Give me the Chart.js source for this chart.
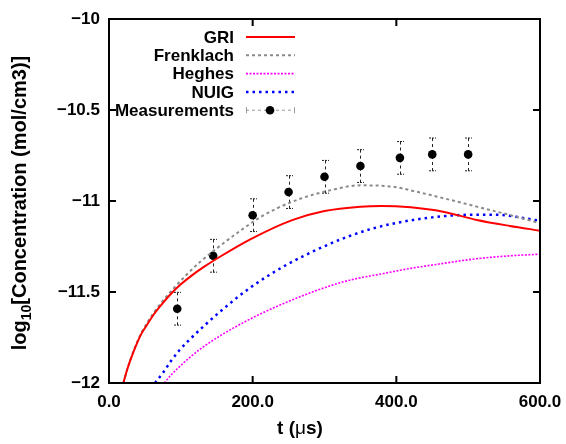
<!DOCTYPE html>
<html>
<head>
<meta charset="utf-8">
<script src="https://cdn.jsdelivr.net/npm/chart.js@4.4.1/dist/chart.umd.min.js"></script>
<style>
  body { margin: 0; background: #fff; }
  canvas { display: block; }
</style>
</head>
<body>
<canvas id="chart" width="566" height="444"></canvas>
<script>
// model curves: time (us) and log10 concentration
const griT = [20, 25, 30, 37, 45, 53, 62, 74, 85, 100, 115, 131, 155, 196, 255, 300, 350, 380, 420, 465, 512, 558, 600];
const griY = [-12, -11.93, -11.872, -11.8, -11.73, -11.68, -11.625, -11.565, -11.515, -11.458, -11.41, -11.365, -11.305, -11.212, -11.105, -11.055, -11.031, -11.027, -11.035, -11.059, -11.104, -11.137, -11.163];

const frenT = [20, 25, 30, 37, 45, 53, 62, 75, 90, 108, 127, 154, 183, 208, 234, 266, 303, 350, 396, 428, 466, 512, 558, 600];
const frenY = [-12, -11.93, -11.87, -11.795, -11.725, -11.67, -11.615, -11.548, -11.48, -11.405, -11.334, -11.248, -11.163, -11.095, -11.04, -10.988, -10.946, -10.914, -10.922, -10.949, -10.985, -11.031, -11.077, -11.122];

const hegT = [77, 85, 95, 110, 130, 155, 180, 210, 245, 290, 335, 380, 420, 465, 510, 555, 600];
const hegY = [-12, -11.962, -11.922, -11.868, -11.805, -11.74, -11.683, -11.622, -11.56, -11.49, -11.435, -11.4, -11.37, -11.343, -11.318, -11.302, -11.292];

const nuigT = [64, 75, 87, 98, 110, 134, 157, 196, 243, 289, 331, 370, 410, 450, 489, 535, 600];
const nuigY = [-12, -11.945, -11.875, -11.82, -11.77, -11.68, -11.6, -11.478, -11.36, -11.268, -11.198, -11.148, -11.113, -11.09, -11.077, -11.075, -11.108];

// measurements with symmetric error
const measT = [95, 145, 200, 250, 300, 350, 405, 450, 500];
const measY = [-11.592, -11.301, -11.078, -10.951, -10.867, -10.808, -10.763, -10.744, -10.744];
const measErr = [0.09, 0.09, 0.09, 0.09, 0.09, 0.09, 0.09, 0.09, 0.09];

const xTicks = [0, 200, 400, 600];
const yTicks = [-12, -11.5, -11, -10.5, -10];

const FONT_FAMILY = '"Liberation Sans", Arial, sans-serif';

function pts(xs, ys) {
    return xs.map((x, i) => ({ x: x, y: ys[i] }));
}

// draws error bars under the measurement dots
const errorBars = {
    id: 'errorBars',
    beforeDatasetsDraw(chart) {
        const ctx = chart.ctx;
        const xs = chart.scales.x, ys = chart.scales.y;
        ctx.save();
        ctx.strokeStyle = '#222';
        ctx.lineWidth = 1;
        measT.forEach((t, i) => {
            let px = Math.round(xs.getPixelForValue(t)) + 0.5;
            let top = ys.getPixelForValue(measY[i] + measErr[i]);
            let bot = ys.getPixelForValue(measY[i] - measErr[i]);
            ctx.setLineDash([3, 3]);
            ctx.beginPath();
            ctx.moveTo(px, top);
            ctx.lineTo(px, bot);
            ctx.stroke();
            ctx.setLineDash([2, 1]);
            ctx.beginPath();
            ctx.moveTo(px - 3.5, top); ctx.lineTo(px + 3.5, top);
            ctx.moveTo(px - 3.5, bot); ctx.lineTo(px + 3.5, bot);
            ctx.stroke();
        });
        ctx.restore();
    }
};

// gnuplot style frame, inward ticks, legend and axis titles
const frame = {
    id: 'frame',
    afterDatasetsDraw(chart) {
        const ctx = chart.ctx;
        const a = chart.chartArea;
        const xs = chart.scales.x, ys = chart.scales.y;
        ctx.save();
        ctx.strokeStyle = '#000';
        ctx.lineWidth = 2;
        ctx.setLineDash([]);
        ctx.strokeRect(a.left, a.top, a.right - a.left, a.bottom - a.top);

        ctx.beginPath();
        xTicks.forEach(v => {
            let px = xs.getPixelForValue(v);
            ctx.moveTo(px, a.bottom); ctx.lineTo(px, a.bottom - 7);
            ctx.moveTo(px, a.top); ctx.lineTo(px, a.top + 7);
        });
        yTicks.forEach(v => {
            let py = ys.getPixelForValue(v);
            ctx.moveTo(a.left, py); ctx.lineTo(a.left + 7, py);
            ctx.moveTo(a.right, py); ctx.lineTo(a.right - 7, py);
        });
        ctx.stroke();

        // legend, text right aligned with sample to the right
        ctx.font = 'bold 17px ' + FONT_FAMILY;
        ctx.textAlign = 'right';
        ctx.textBaseline = 'middle';
        chart.data.datasets.forEach((ds, i) => {
            let y = 37 + i * 18.3;
            ctx.fillStyle = '#000';
            ctx.fillText(ds.label, 234, y + 1);
            ctx.strokeStyle = ds.borderColor;
            ctx.lineWidth = ds.borderWidth;
            ctx.setLineDash(ds.borderDash || []);
            ctx.beginPath();
            ctx.moveTo(246, y); ctx.lineTo(295, y);
            ctx.stroke();
            if (ds.isMeasurement) {
                ctx.setLineDash([]);
                ctx.lineWidth = 1;
                ctx.beginPath();
                ctx.moveTo(246.5, y - 3); ctx.lineTo(246.5, y + 3);
                ctx.moveTo(294.5, y - 3); ctx.lineTo(294.5, y + 3);
                ctx.stroke();
                ctx.fillStyle = '#000';
                ctx.beginPath();
                ctx.arc(270, y, 4.3, 0, Math.PI * 2);
                ctx.fill();
            }
        });

        ctx.setLineDash([]);
        ctx.fillStyle = '#000';
        ctx.textBaseline = 'alphabetic';
        ctx.textAlign = 'left';

        // draws a run of [text, font, dy] pieces centred on 0
        function drawRun(parts) {
            let total = 0;
            parts.forEach(p => { ctx.font = p[1]; total += ctx.measureText(p[0]).width; });
            let x = -total / 2;
            parts.forEach(p => {
                ctx.font = p[1];
                ctx.fillText(p[0], x, p[2]);
                x += ctx.measureText(p[0]).width;
            });
        }

        // x title, mu in a plain face like the symbol font
        ctx.save();
        ctx.translate(300, 434);
        drawRun([['t (', 'bold 19px ' + FONT_FAMILY, 0],
                 ['\u03bc', '19px ' + FONT_FAMILY, 0],
                 ['s)', 'bold 19px ' + FONT_FAMILY, 0]]);
        ctx.restore();

        // y title with subscript
        ctx.translate(26, 203);
        ctx.rotate(-Math.PI / 2);
        drawRun([['log', 'bold 20px ' + FONT_FAMILY, 0],
                 ['10', 'bold 14px ' + FONT_FAMILY, 5],
                 ['[Concentration (mol/cm3)]', 'bold 20px ' + FONT_FAMILY, 0]]);
        ctx.restore();
    }
};

const ctx = document.getElementById('chart').getContext('2d');
const chart = new Chart(ctx, {
    type: 'scatter',
    data: {
        datasets: [
            {
                label: 'GRI',
                data: pts(griT, griY),
                showLine: true,
                borderColor: '#ff0000',
                borderWidth: 2,
                pointRadius: 0,
                cubicInterpolationMode: 'monotone'
            },
            {
                label: 'Frenklach',
                data: pts(frenT, frenY),
                showLine: true,
                borderColor: '#8a8a8a',
                borderWidth: 2,
                borderDash: [3, 3],
                pointRadius: 0,
                cubicInterpolationMode: 'monotone'
            },
            {
                label: 'Heghes',
                data: pts(hegT, hegY),
                showLine: true,
                borderColor: '#ff00ff',
                borderWidth: 1.6,
                borderDash: [2, 1.5],
                pointRadius: 0,
                cubicInterpolationMode: 'monotone'
            },
            {
                label: 'NUIG',
                data: pts(nuigT, nuigY),
                showLine: true,
                borderColor: '#0000ff',
                borderWidth: 2.5,
                borderDash: [2.5, 4],
                pointRadius: 0,
                cubicInterpolationMode: 'monotone'
            },
            {
                label: 'Measurements',
                data: pts(measT, measY),
                showLine: false,
                isMeasurement: true,
                borderColor: '#999',
                borderWidth: 1,
                borderDash: [3, 3],
                pointRadius: 4.3,
                pointBackgroundColor: '#000',
                pointBorderColor: '#000',
                pointBorderWidth: 0
            }
        ]
    },
    options: {
        responsive: false,
        animation: false,
        layout: { padding: { top: 19, right: 26, left: 0, bottom: 0 } },
        plugins: {
            legend: { display: false },
            tooltip: { enabled: false }
        },
        scales: {
            x: {
                type: 'linear',
                min: 0,
                max: 600,
                afterBuildTicks: s => { s.ticks = xTicks.map(v => ({ value: v })); },
                afterFit: s => {
                    s.height = 61;
                    // keep the plot box where the original has it
                    s.paddingLeft = 0;
                    s.paddingRight = 0;
                },
                grid: { display: false, drawTicks: false },
                border: { display: false },
                ticks: {
                    padding: 9,
                    maxRotation: 0,
                    color: '#000',
                    font: { family: FONT_FAMILY, size: 17, weight: 'bold' },
                    callback: v => v.toFixed(1)
                }
            },
            y: {
                type: 'linear',
                min: -12,
                max: -10,
                afterBuildTicks: s => { s.ticks = yTicks.map(v => ({ value: v })); },
                afterFit: s => {
                    s.width = 109;
                    s.paddingTop = 0;
                    s.paddingBottom = 0;
                },
                grid: { display: false, drawTicks: false },
                border: { display: false },
                ticks: {
                    padding: 9,
                    color: '#000',
                    font: { family: FONT_FAMILY, size: 17, weight: 'bold' },
                    callback: v => String(v).replace('-', '\u2212')
                }
            }
        }
    },
    plugins: [errorBars, frame]
});
</script>
</body>
</html>
